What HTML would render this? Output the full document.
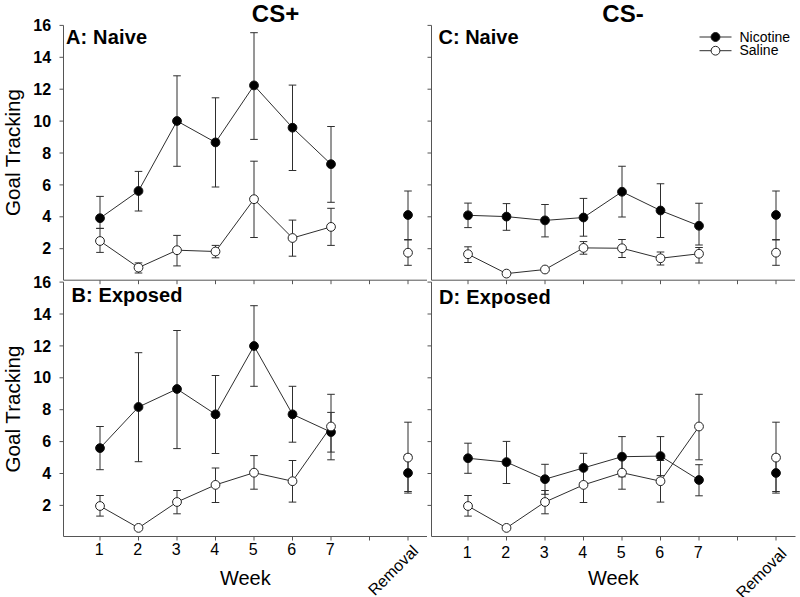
<!DOCTYPE html>
<html><head><meta charset="utf-8"><title>Goal Tracking</title>
<style>html,body{margin:0;padding:0;background:#fff;width:800px;height:597px;overflow:hidden;}svg{display:block;font-family:"Liberation Sans",sans-serif;}</style>
</head><body>
<svg width="800" height="597" viewBox="0 0 800 597">
<rect width="800" height="597" fill="#fff"/>
<g>
<g stroke="#555" stroke-width="1" fill="none"><line x1="63.5" y1="25.4" x2="63.5" y2="280.2"/><line x1="63.5" y1="280.2" x2="427" y2="280.2"/><line x1="59.5" y1="25.4" x2="63.5" y2="25.4"/><line x1="59.5" y1="57.3" x2="63.5" y2="57.3"/><line x1="59.5" y1="89.2" x2="63.5" y2="89.2"/><line x1="59.5" y1="121.1" x2="63.5" y2="121.1"/><line x1="59.5" y1="153" x2="63.5" y2="153"/><line x1="59.5" y1="184.9" x2="63.5" y2="184.9"/><line x1="59.5" y1="216.8" x2="63.5" y2="216.8"/><line x1="59.5" y1="248.7" x2="63.5" y2="248.7"/><line x1="100" y1="280.2" x2="100" y2="284.2"/><line x1="138.5" y1="280.2" x2="138.5" y2="284.2"/><line x1="177" y1="280.2" x2="177" y2="284.2"/><line x1="215.5" y1="280.2" x2="215.5" y2="284.2"/><line x1="254" y1="280.2" x2="254" y2="284.2"/><line x1="292.5" y1="280.2" x2="292.5" y2="284.2"/><line x1="331" y1="280.2" x2="331" y2="284.2"/><line x1="369.5" y1="280.2" x2="369.5" y2="284.2"/><line x1="408" y1="280.2" x2="408" y2="284.2"/><line x1="431.5" y1="25.4" x2="431.5" y2="280.2"/><line x1="431.5" y1="280.2" x2="795" y2="280.2"/><line x1="427.5" y1="25.4" x2="431.5" y2="25.4"/><line x1="427.5" y1="57.3" x2="431.5" y2="57.3"/><line x1="427.5" y1="89.2" x2="431.5" y2="89.2"/><line x1="427.5" y1="121.1" x2="431.5" y2="121.1"/><line x1="427.5" y1="153" x2="431.5" y2="153"/><line x1="427.5" y1="184.9" x2="431.5" y2="184.9"/><line x1="427.5" y1="216.8" x2="431.5" y2="216.8"/><line x1="427.5" y1="248.7" x2="431.5" y2="248.7"/><line x1="468" y1="280.2" x2="468" y2="284.2"/><line x1="506.5" y1="280.2" x2="506.5" y2="284.2"/><line x1="545" y1="280.2" x2="545" y2="284.2"/><line x1="583.5" y1="280.2" x2="583.5" y2="284.2"/><line x1="622" y1="280.2" x2="622" y2="284.2"/><line x1="660.5" y1="280.2" x2="660.5" y2="284.2"/><line x1="699" y1="280.2" x2="699" y2="284.2"/><line x1="737.5" y1="280.2" x2="737.5" y2="284.2"/><line x1="776" y1="280.2" x2="776" y2="284.2"/><line x1="63.5" y1="282.1" x2="63.5" y2="536.5"/><line x1="63.5" y1="536.5" x2="427" y2="536.5"/><line x1="59.5" y1="282.1" x2="63.5" y2="282.1"/><line x1="59.5" y1="314" x2="63.5" y2="314"/><line x1="59.5" y1="345.9" x2="63.5" y2="345.9"/><line x1="59.5" y1="377.8" x2="63.5" y2="377.8"/><line x1="59.5" y1="409.7" x2="63.5" y2="409.7"/><line x1="59.5" y1="441.6" x2="63.5" y2="441.6"/><line x1="59.5" y1="473.5" x2="63.5" y2="473.5"/><line x1="59.5" y1="505.4" x2="63.5" y2="505.4"/><line x1="100" y1="536.5" x2="100" y2="540.5"/><line x1="138.5" y1="536.5" x2="138.5" y2="540.5"/><line x1="177" y1="536.5" x2="177" y2="540.5"/><line x1="215.5" y1="536.5" x2="215.5" y2="540.5"/><line x1="254" y1="536.5" x2="254" y2="540.5"/><line x1="292.5" y1="536.5" x2="292.5" y2="540.5"/><line x1="331" y1="536.5" x2="331" y2="540.5"/><line x1="369.5" y1="536.5" x2="369.5" y2="540.5"/><line x1="408" y1="536.5" x2="408" y2="540.5"/><line x1="431.5" y1="282.1" x2="431.5" y2="536.5"/><line x1="431.5" y1="536.5" x2="795.5" y2="536.5"/><line x1="427.5" y1="282.1" x2="431.5" y2="282.1"/><line x1="427.5" y1="314" x2="431.5" y2="314"/><line x1="427.5" y1="345.9" x2="431.5" y2="345.9"/><line x1="427.5" y1="377.8" x2="431.5" y2="377.8"/><line x1="427.5" y1="409.7" x2="431.5" y2="409.7"/><line x1="427.5" y1="441.6" x2="431.5" y2="441.6"/><line x1="427.5" y1="473.5" x2="431.5" y2="473.5"/><line x1="427.5" y1="505.4" x2="431.5" y2="505.4"/><line x1="468" y1="536.5" x2="468" y2="540.5"/><line x1="506.5" y1="536.5" x2="506.5" y2="540.5"/><line x1="545" y1="536.5" x2="545" y2="540.5"/><line x1="583.5" y1="536.5" x2="583.5" y2="540.5"/><line x1="622" y1="536.5" x2="622" y2="540.5"/><line x1="660.5" y1="536.5" x2="660.5" y2="540.5"/><line x1="699" y1="536.5" x2="699" y2="540.5"/><line x1="737.5" y1="536.5" x2="737.5" y2="540.5"/><line x1="776" y1="536.5" x2="776" y2="540.5"/></g>
<g stroke="#2e2e2e" stroke-width="1"><line x1="100" y1="196.4" x2="100" y2="228.4"/><line x1="96.2" y1="196.4" x2="103.8" y2="196.4"/><line x1="96.2" y1="228.4" x2="103.8" y2="228.4"/><line x1="138.5" y1="171.4" x2="138.5" y2="211"/><line x1="134.7" y1="171.4" x2="142.3" y2="171.4"/><line x1="134.7" y1="211" x2="142.3" y2="211"/><line x1="177" y1="75.8" x2="177" y2="166.3"/><line x1="173.2" y1="75.8" x2="180.8" y2="75.8"/><line x1="173.2" y1="166.3" x2="180.8" y2="166.3"/><line x1="215.5" y1="97.8" x2="215.5" y2="187"/><line x1="211.7" y1="97.8" x2="219.3" y2="97.8"/><line x1="211.7" y1="187" x2="219.3" y2="187"/><line x1="254" y1="32.7" x2="254" y2="139.4"/><line x1="250.2" y1="32.7" x2="257.8" y2="32.7"/><line x1="250.2" y1="139.4" x2="257.8" y2="139.4"/><line x1="292.5" y1="85.1" x2="292.5" y2="170.5"/><line x1="288.7" y1="85.1" x2="296.3" y2="85.1"/><line x1="288.7" y1="170.5" x2="296.3" y2="170.5"/><line x1="331" y1="126.5" x2="331" y2="202.3"/><line x1="327.2" y1="126.5" x2="334.8" y2="126.5"/><line x1="327.2" y1="202.3" x2="334.8" y2="202.3"/><line x1="408" y1="191" x2="408" y2="239.5"/><line x1="404.2" y1="191" x2="411.8" y2="191"/><line x1="404.2" y1="239.5" x2="411.8" y2="239.5"/></g>
<g stroke="#2e2e2e" stroke-width="1"><line x1="100" y1="228.4" x2="100" y2="252.4"/><line x1="96.2" y1="228.4" x2="103.8" y2="228.4"/><line x1="96.2" y1="252.4" x2="103.8" y2="252.4"/><line x1="138.5" y1="262.9" x2="138.5" y2="273"/><line x1="134.7" y1="262.9" x2="142.3" y2="262.9"/><line x1="134.7" y1="273" x2="142.3" y2="273"/><line x1="177" y1="235.4" x2="177" y2="265.9"/><line x1="173.2" y1="235.4" x2="180.8" y2="235.4"/><line x1="173.2" y1="265.9" x2="180.8" y2="265.9"/><line x1="215.5" y1="245.4" x2="215.5" y2="257.8"/><line x1="211.7" y1="245.4" x2="219.3" y2="245.4"/><line x1="211.7" y1="257.8" x2="219.3" y2="257.8"/><line x1="254" y1="161.2" x2="254" y2="237.5"/><line x1="250.2" y1="161.2" x2="257.8" y2="161.2"/><line x1="250.2" y1="237.5" x2="257.8" y2="237.5"/><line x1="292.5" y1="220.1" x2="292.5" y2="256.2"/><line x1="288.7" y1="220.1" x2="296.3" y2="220.1"/><line x1="288.7" y1="256.2" x2="296.3" y2="256.2"/><line x1="331" y1="208.3" x2="331" y2="245.4"/><line x1="327.2" y1="208.3" x2="334.8" y2="208.3"/><line x1="327.2" y1="245.4" x2="334.8" y2="245.4"/><line x1="408" y1="240" x2="408" y2="265.3"/><line x1="404.2" y1="240" x2="411.8" y2="240"/><line x1="404.2" y1="265.3" x2="411.8" y2="265.3"/></g>
<polyline points="100,218.2 138.5,191 177,121 215.5,142.4 254,85.4 292.5,127.7 331,164.2" fill="none" stroke="#2e2e2e" stroke-width="1"/>
<polyline points="100,241 138.5,267.6 177,250.2 215.5,251.5 254,199.2 292.5,238 331,226.9" fill="none" stroke="#2e2e2e" stroke-width="1"/>
<g fill="#000" stroke="#111" stroke-width="1"><circle cx="100" cy="218.2" r="4.4"/><circle cx="138.5" cy="191" r="4.4"/><circle cx="177" cy="121" r="4.4"/><circle cx="215.5" cy="142.4" r="4.4"/><circle cx="254" cy="85.4" r="4.4"/><circle cx="292.5" cy="127.7" r="4.4"/><circle cx="331" cy="164.2" r="4.4"/><circle cx="408" cy="215" r="4.4"/></g>
<g fill="#fff" stroke="#222" stroke-width="1"><circle cx="100" cy="241" r="4.4"/><circle cx="138.5" cy="267.6" r="4.4"/><circle cx="177" cy="250.2" r="4.4"/><circle cx="215.5" cy="251.5" r="4.4"/><circle cx="254" cy="199.2" r="4.4"/><circle cx="292.5" cy="238" r="4.4"/><circle cx="331" cy="226.9" r="4.4"/><circle cx="408" cy="252.7" r="4.4"/></g>
<g stroke="#2e2e2e" stroke-width="1"><line x1="468" y1="203.1" x2="468" y2="227.6"/><line x1="464.2" y1="203.1" x2="471.8" y2="203.1"/><line x1="464.2" y1="227.6" x2="471.8" y2="227.6"/><line x1="506.5" y1="203.6" x2="506.5" y2="230.3"/><line x1="502.7" y1="203.6" x2="510.3" y2="203.6"/><line x1="502.7" y1="230.3" x2="510.3" y2="230.3"/><line x1="545" y1="204.5" x2="545" y2="236.9"/><line x1="541.2" y1="204.5" x2="548.8" y2="204.5"/><line x1="541.2" y1="236.9" x2="548.8" y2="236.9"/><line x1="583.5" y1="198.4" x2="583.5" y2="236.2"/><line x1="579.7" y1="198.4" x2="587.3" y2="198.4"/><line x1="579.7" y1="236.2" x2="587.3" y2="236.2"/><line x1="622" y1="166.25" x2="622" y2="217"/><line x1="618.2" y1="166.25" x2="625.8" y2="166.25"/><line x1="618.2" y1="217" x2="625.8" y2="217"/><line x1="660.5" y1="183.75" x2="660.5" y2="237.5"/><line x1="656.7" y1="183.75" x2="664.3" y2="183.75"/><line x1="656.7" y1="237.5" x2="664.3" y2="237.5"/><line x1="699" y1="203.25" x2="699" y2="245"/><line x1="695.2" y1="203.25" x2="702.8" y2="203.25"/><line x1="695.2" y1="245" x2="702.8" y2="245"/><line x1="776" y1="191" x2="776" y2="239.5"/><line x1="772.2" y1="191" x2="779.8" y2="191"/><line x1="772.2" y1="239.5" x2="779.8" y2="239.5"/></g>
<g stroke="#2e2e2e" stroke-width="1"><line x1="468" y1="246.8" x2="468" y2="262.5"/><line x1="464.2" y1="246.8" x2="471.8" y2="246.8"/><line x1="464.2" y1="262.5" x2="471.8" y2="262.5"/><line x1="583.5" y1="241.6" x2="583.5" y2="254.2"/><line x1="579.7" y1="241.6" x2="587.3" y2="241.6"/><line x1="579.7" y1="254.2" x2="587.3" y2="254.2"/><line x1="622" y1="239.5" x2="622" y2="257.5"/><line x1="618.2" y1="239.5" x2="625.8" y2="239.5"/><line x1="618.2" y1="257.5" x2="625.8" y2="257.5"/><line x1="660.5" y1="252" x2="660.5" y2="265"/><line x1="656.7" y1="252" x2="664.3" y2="252"/><line x1="656.7" y1="265" x2="664.3" y2="265"/><line x1="699" y1="247.5" x2="699" y2="263"/><line x1="695.2" y1="247.5" x2="702.8" y2="247.5"/><line x1="695.2" y1="263" x2="702.8" y2="263"/><line x1="776" y1="240" x2="776" y2="265.3"/><line x1="772.2" y1="240" x2="779.8" y2="240"/><line x1="772.2" y1="265.3" x2="779.8" y2="265.3"/></g>
<polyline points="468,215.3 506.5,216.6 545,220.4 583.5,217.5 622,191.75 660.5,210.5 699,225.75" fill="none" stroke="#2e2e2e" stroke-width="1"/>
<polyline points="468,254.2 506.5,273.6 545,269.5 583.5,247.9 622,248.25 660.5,258.25 699,253.75" fill="none" stroke="#2e2e2e" stroke-width="1"/>
<g fill="#000" stroke="#111" stroke-width="1"><circle cx="468" cy="215.3" r="4.4"/><circle cx="506.5" cy="216.6" r="4.4"/><circle cx="545" cy="220.4" r="4.4"/><circle cx="583.5" cy="217.5" r="4.4"/><circle cx="622" cy="191.75" r="4.4"/><circle cx="660.5" cy="210.5" r="4.4"/><circle cx="699" cy="225.75" r="4.4"/><circle cx="776" cy="215" r="4.4"/></g>
<g fill="#fff" stroke="#222" stroke-width="1"><circle cx="468" cy="254.2" r="4.4"/><circle cx="506.5" cy="273.6" r="4.4"/><circle cx="545" cy="269.5" r="4.4"/><circle cx="583.5" cy="247.9" r="4.4"/><circle cx="622" cy="248.25" r="4.4"/><circle cx="660.5" cy="258.25" r="4.4"/><circle cx="699" cy="253.75" r="4.4"/><circle cx="776" cy="252.7" r="4.4"/></g>
<g stroke="#2e2e2e" stroke-width="1"><line x1="100" y1="426.5" x2="100" y2="469.7"/><line x1="96.2" y1="426.5" x2="103.8" y2="426.5"/><line x1="96.2" y1="469.7" x2="103.8" y2="469.7"/><line x1="138.5" y1="352.7" x2="138.5" y2="461.7"/><line x1="134.7" y1="352.7" x2="142.3" y2="352.7"/><line x1="134.7" y1="461.7" x2="142.3" y2="461.7"/><line x1="177" y1="330.5" x2="177" y2="448.6"/><line x1="173.2" y1="330.5" x2="180.8" y2="330.5"/><line x1="173.2" y1="448.6" x2="180.8" y2="448.6"/><line x1="215.5" y1="375.5" x2="215.5" y2="453.5"/><line x1="211.7" y1="375.5" x2="219.3" y2="375.5"/><line x1="211.7" y1="453.5" x2="219.3" y2="453.5"/><line x1="254" y1="305.7" x2="254" y2="386.3"/><line x1="250.2" y1="305.7" x2="257.8" y2="305.7"/><line x1="250.2" y1="386.3" x2="257.8" y2="386.3"/><line x1="292.5" y1="386.3" x2="292.5" y2="442.2"/><line x1="288.7" y1="386.3" x2="296.3" y2="386.3"/><line x1="288.7" y1="442.2" x2="296.3" y2="442.2"/><line x1="331" y1="412.4" x2="331" y2="452.1"/><line x1="327.2" y1="412.4" x2="334.8" y2="412.4"/><line x1="327.2" y1="452.1" x2="334.8" y2="452.1"/><line x1="408" y1="454.5" x2="408" y2="491.5"/><line x1="404.2" y1="454.5" x2="411.8" y2="454.5"/><line x1="404.2" y1="491.5" x2="411.8" y2="491.5"/></g>
<g stroke="#2e2e2e" stroke-width="1"><line x1="100" y1="495.5" x2="100" y2="516.1"/><line x1="96.2" y1="495.5" x2="103.8" y2="495.5"/><line x1="96.2" y1="516.1" x2="103.8" y2="516.1"/><line x1="177" y1="490.5" x2="177" y2="513.8"/><line x1="173.2" y1="490.5" x2="180.8" y2="490.5"/><line x1="173.2" y1="513.8" x2="180.8" y2="513.8"/><line x1="215.5" y1="468" x2="215.5" y2="502.5"/><line x1="211.7" y1="468" x2="219.3" y2="468"/><line x1="211.7" y1="502.5" x2="219.3" y2="502.5"/><line x1="254" y1="455.6" x2="254" y2="489.2"/><line x1="250.2" y1="455.6" x2="257.8" y2="455.6"/><line x1="250.2" y1="489.2" x2="257.8" y2="489.2"/><line x1="292.5" y1="460.5" x2="292.5" y2="502.1"/><line x1="288.7" y1="460.5" x2="296.3" y2="460.5"/><line x1="288.7" y1="502.1" x2="296.3" y2="502.1"/><line x1="331" y1="394.3" x2="331" y2="459.8"/><line x1="327.2" y1="394.3" x2="334.8" y2="394.3"/><line x1="327.2" y1="459.8" x2="334.8" y2="459.8"/><line x1="408" y1="422.2" x2="408" y2="493.1"/><line x1="404.2" y1="422.2" x2="411.8" y2="422.2"/><line x1="404.2" y1="493.1" x2="411.8" y2="493.1"/></g>
<polyline points="100,448.1 138.5,407 177,389 215.5,414.3 254,346 292.5,414.3 331,432.1" fill="none" stroke="#2e2e2e" stroke-width="1"/>
<polyline points="100,506 138.5,527.9 177,502 215.5,484.9 254,472.7 292.5,481.2 331,426.5" fill="none" stroke="#2e2e2e" stroke-width="1"/>
<g fill="#000" stroke="#111" stroke-width="1"><circle cx="100" cy="448.1" r="4.4"/><circle cx="138.5" cy="407" r="4.4"/><circle cx="177" cy="389" r="4.4"/><circle cx="215.5" cy="414.3" r="4.4"/><circle cx="254" cy="346" r="4.4"/><circle cx="292.5" cy="414.3" r="4.4"/><circle cx="331" cy="432.1" r="4.4"/><circle cx="408" cy="473" r="4.4"/></g>
<g fill="#fff" stroke="#222" stroke-width="1"><circle cx="100" cy="506" r="4.4"/><circle cx="138.5" cy="527.9" r="4.4"/><circle cx="177" cy="502" r="4.4"/><circle cx="215.5" cy="484.9" r="4.4"/><circle cx="254" cy="472.7" r="4.4"/><circle cx="292.5" cy="481.2" r="4.4"/><circle cx="331" cy="426.5" r="4.4"/><circle cx="408" cy="457.6" r="4.4"/></g>
<g stroke="#2e2e2e" stroke-width="1"><line x1="468" y1="443.2" x2="468" y2="473.3"/><line x1="464.2" y1="443.2" x2="471.8" y2="443.2"/><line x1="464.2" y1="473.3" x2="471.8" y2="473.3"/><line x1="506.5" y1="441.4" x2="506.5" y2="483.5"/><line x1="502.7" y1="441.4" x2="510.3" y2="441.4"/><line x1="502.7" y1="483.5" x2="510.3" y2="483.5"/><line x1="545" y1="464.3" x2="545" y2="494.3"/><line x1="541.2" y1="464.3" x2="548.8" y2="464.3"/><line x1="541.2" y1="494.3" x2="548.8" y2="494.3"/><line x1="583.5" y1="453.3" x2="583.5" y2="482.5"/><line x1="579.7" y1="453.3" x2="587.3" y2="453.3"/><line x1="579.7" y1="482.5" x2="587.3" y2="482.5"/><line x1="622" y1="436.6" x2="622" y2="476.8"/><line x1="618.2" y1="436.6" x2="625.8" y2="436.6"/><line x1="618.2" y1="476.8" x2="625.8" y2="476.8"/><line x1="660.5" y1="436.6" x2="660.5" y2="475.6"/><line x1="656.7" y1="436.6" x2="664.3" y2="436.6"/><line x1="656.7" y1="475.6" x2="664.3" y2="475.6"/><line x1="699" y1="464.7" x2="699" y2="495.8"/><line x1="695.2" y1="464.7" x2="702.8" y2="464.7"/><line x1="695.2" y1="495.8" x2="702.8" y2="495.8"/><line x1="776" y1="454.5" x2="776" y2="491.5"/><line x1="772.2" y1="454.5" x2="779.8" y2="454.5"/><line x1="772.2" y1="491.5" x2="779.8" y2="491.5"/></g>
<g stroke="#2e2e2e" stroke-width="1"><line x1="468" y1="495.5" x2="468" y2="516.1"/><line x1="464.2" y1="495.5" x2="471.8" y2="495.5"/><line x1="464.2" y1="516.1" x2="471.8" y2="516.1"/><line x1="545" y1="490.5" x2="545" y2="513.8"/><line x1="541.2" y1="490.5" x2="548.8" y2="490.5"/><line x1="541.2" y1="513.8" x2="548.8" y2="513.8"/><line x1="583.5" y1="468" x2="583.5" y2="502.5"/><line x1="579.7" y1="468" x2="587.3" y2="468"/><line x1="579.7" y1="502.5" x2="587.3" y2="502.5"/><line x1="622" y1="455.6" x2="622" y2="489.2"/><line x1="618.2" y1="455.6" x2="625.8" y2="455.6"/><line x1="618.2" y1="489.2" x2="625.8" y2="489.2"/><line x1="660.5" y1="460.5" x2="660.5" y2="502.1"/><line x1="656.7" y1="460.5" x2="664.3" y2="460.5"/><line x1="656.7" y1="502.1" x2="664.3" y2="502.1"/><line x1="699" y1="394.3" x2="699" y2="459.8"/><line x1="695.2" y1="394.3" x2="702.8" y2="394.3"/><line x1="695.2" y1="459.8" x2="702.8" y2="459.8"/><line x1="776" y1="422.2" x2="776" y2="493.1"/><line x1="772.2" y1="422.2" x2="779.8" y2="422.2"/><line x1="772.2" y1="493.1" x2="779.8" y2="493.1"/></g>
<polyline points="468,458.25 506.5,462.1 545,479.2 583.5,467.9 622,456.7 660.5,456.1 699,480" fill="none" stroke="#2e2e2e" stroke-width="1"/>
<polyline points="468,506 506.5,527.9 545,502 583.5,484.9 622,472.7 660.5,481.2 699,426.5" fill="none" stroke="#2e2e2e" stroke-width="1"/>
<g fill="#000" stroke="#111" stroke-width="1"><circle cx="468" cy="458.25" r="4.4"/><circle cx="506.5" cy="462.1" r="4.4"/><circle cx="545" cy="479.2" r="4.4"/><circle cx="583.5" cy="467.9" r="4.4"/><circle cx="622" cy="456.7" r="4.4"/><circle cx="660.5" cy="456.1" r="4.4"/><circle cx="699" cy="480" r="4.4"/><circle cx="776" cy="473" r="4.4"/></g>
<g fill="#fff" stroke="#222" stroke-width="1"><circle cx="468" cy="506" r="4.4"/><circle cx="506.5" cy="527.9" r="4.4"/><circle cx="545" cy="502" r="4.4"/><circle cx="583.5" cy="484.9" r="4.4"/><circle cx="622" cy="472.7" r="4.4"/><circle cx="660.5" cy="481.2" r="4.4"/><circle cx="699" cy="426.5" r="4.4"/><circle cx="776" cy="457.6" r="4.4"/></g>
<g font-family="Liberation Sans, sans-serif" fill="#000"><text x="275.5" y="22" font-size="24" font-weight="bold" text-anchor="middle">CS+</text><text x="623" y="22" font-size="24" font-weight="bold" text-anchor="middle">CS-</text><text x="66" y="44" font-size="20" font-weight="bold" letter-spacing="0.15">A: Naive</text><text x="438.5" y="44.2" font-size="20" font-weight="bold">C: Naive</text><text x="71.5" y="301.6" font-size="20" font-weight="bold" letter-spacing="0.1">B: Exposed</text><text x="439" y="304" font-size="20" font-weight="bold" letter-spacing="0.18">D: Exposed</text><text x="51.1" y="31" font-size="16" font-weight="bold" text-anchor="end">16</text><text x="51.1" y="62.9" font-size="16" font-weight="bold" text-anchor="end">14</text><text x="51.1" y="94.8" font-size="16" font-weight="bold" text-anchor="end">12</text><text x="51.1" y="126.7" font-size="16" font-weight="bold" text-anchor="end">10</text><text x="51.1" y="158.6" font-size="16" font-weight="bold" text-anchor="end">8</text><text x="51.1" y="190.5" font-size="16" font-weight="bold" text-anchor="end">6</text><text x="51.1" y="222.4" font-size="16" font-weight="bold" text-anchor="end">4</text><text x="51.1" y="254.3" font-size="16" font-weight="bold" text-anchor="end">2</text><text x="51.1" y="287.7" font-size="16" font-weight="bold" text-anchor="end">16</text><text x="51.1" y="319.6" font-size="16" font-weight="bold" text-anchor="end">14</text><text x="51.1" y="351.5" font-size="16" font-weight="bold" text-anchor="end">12</text><text x="51.1" y="383.4" font-size="16" font-weight="bold" text-anchor="end">10</text><text x="51.1" y="415.3" font-size="16" font-weight="bold" text-anchor="end">8</text><text x="51.1" y="447.2" font-size="16" font-weight="bold" text-anchor="end">6</text><text x="51.1" y="479.1" font-size="16" font-weight="bold" text-anchor="end">4</text><text x="51.1" y="511" font-size="16" font-weight="bold" text-anchor="end">2</text><text transform="translate(20,152.5) rotate(-90)" font-size="20.6" text-anchor="middle">Goal Tracking</text><text transform="translate(20,409) rotate(-90)" font-size="20.6" text-anchor="middle">Goal Tracking</text><text x="99.2" y="555.1" font-size="16" text-anchor="middle">1</text><text x="137.7" y="555.1" font-size="16" text-anchor="middle">2</text><text x="176.2" y="555.1" font-size="16" text-anchor="middle">3</text><text x="214.7" y="555.1" font-size="16" text-anchor="middle">4</text><text x="253.2" y="555.1" font-size="16" text-anchor="middle">5</text><text x="291.7" y="555.1" font-size="16" text-anchor="middle">6</text><text x="330.2" y="555.1" font-size="16" text-anchor="middle">7</text><text x="245.3" y="584.5" font-size="20" text-anchor="middle" transform="translate(0,0)">Week</text><text transform="translate(419.3,551.9) rotate(-45)" font-size="16" text-anchor="end">Removal</text><text x="467.2" y="557.9" font-size="16" text-anchor="middle">1</text><text x="505.7" y="557.9" font-size="16" text-anchor="middle">2</text><text x="544.2" y="557.9" font-size="16" text-anchor="middle">3</text><text x="582.7" y="557.9" font-size="16" text-anchor="middle">4</text><text x="621.2" y="557.9" font-size="16" text-anchor="middle">5</text><text x="659.7" y="557.9" font-size="16" text-anchor="middle">6</text><text x="698.2" y="557.9" font-size="16" text-anchor="middle">7</text><text x="245.3" y="584.5" font-size="20" text-anchor="middle" transform="translate(368,0)">Week</text><text transform="translate(787.5,554.6) rotate(-45)" font-size="16" text-anchor="end">Removal</text><text x="739.5" y="41.5" font-size="14">Nicotine</text><text x="739.5" y="55" font-size="14">Saline</text></g>
<g stroke="#2e2e2e" stroke-width="1"><line x1="699.5" y1="37" x2="731.5" y2="37"/><line x1="699.5" y1="50.7" x2="731.5" y2="50.7"/></g><circle cx="715.5" cy="37" r="4.4" fill="#000" stroke="#111"/><circle cx="715.5" cy="50.7" r="4.4" fill="#fff" stroke="#222"/>
</g>
</svg>
</body></html>
